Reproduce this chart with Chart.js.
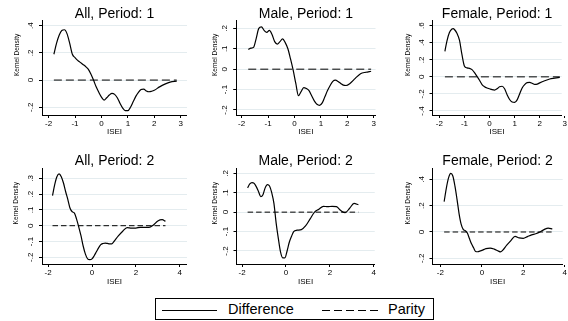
<!DOCTYPE html>
<html>
<head>
<meta charset="utf-8">
<script src="https://cdn.jsdelivr.net/npm/chart.js@4.4.0/dist/chart.umd.min.js"></script>
<style>
  html, body { margin: 0; padding: 0; background: #fff; }
  body { width: 568px; height: 321px; position: relative; overflow: hidden; font-family: "Liberation Sans", Arial, sans-serif; }
  canvas { position: absolute; }
  #legend { position: absolute; left: 155px; top: 298px; width: 279px; height: 22px; border: 1px solid #000; box-sizing: border-box; }
  #legend .solid { position: absolute; left: 5.7px; top: 11px; width: 55px; height: 1px; background: #000; }
  #legend .dash { position: absolute; left: 165.7px; top: 11px; width: 60px; height: 1px;
    background: repeating-linear-gradient(to right, #000 0 8px, transparent 8px 12px); }
  #legend span { position: absolute; top: 2.3px; font-size: 14.5px; line-height: 16px; color: #000; white-space: nowrap; }
</style>
</head>
<body>
<canvas id="p1" width="187" height="140" style="left:0px;top:0px"></canvas>
<canvas id="p2" width="187" height="140" style="left:190px;top:0px"></canvas>
<canvas id="p3" width="188" height="140" style="left:380px;top:0px"></canvas>
<canvas id="p4" width="187" height="150" style="left:0px;top:140px"></canvas>
<canvas id="p5" width="187" height="150" style="left:190px;top:140px"></canvas>
<canvas id="p6" width="188" height="150" style="left:380px;top:140px"></canvas>
<div id="legend">
  <div class="solid"></div><span style="left:72px">Difference</span>
  <div class="dash"></div><span style="left:232px">Parity</span>
</div>
<script>
// panel titles
const panelTitles = ['All, Period: 1', 'Male, Period: 1', 'Female, Period: 1',
                     'All, Period: 2', 'Male, Period: 2', 'Female, Period: 2'];

// ISEI (x) and kernel density difference (y)
const isei_all1 = [-1.8,-1.7,-1.6,-1.5,-1.4,-1.3,-1.2,-1.1,-1.0,-0.9,-0.8,-0.7,-0.6,-0.5,-0.4,-0.3,-0.2,-0.1,0.0,0.1,0.2,0.3,0.4,0.5,0.6,0.7,0.8,0.9,1.0,1.1,1.2,1.3,1.4,1.5,1.6,1.7,1.8,1.9,2.0,2.2,2.4,2.6,2.85];
const diff_all1 = [0.19,0.27,0.33,0.365,0.37,0.34,0.27,0.19,0.165,0.145,0.13,0.115,0.10,0.08,0.045,0.0,-0.05,-0.09,-0.125,-0.147,-0.13,-0.11,-0.098,-0.105,-0.13,-0.17,-0.205,-0.225,-0.225,-0.20,-0.16,-0.12,-0.09,-0.07,-0.066,-0.08,-0.086,-0.082,-0.075,-0.05,-0.03,-0.015,-0.008];

const isei_male1 = [-1.75,-1.65,-1.55,-1.45,-1.35,-1.25,-1.15,-1.05,-0.95,-0.85,-0.75,-0.65,-0.55,-0.45,-0.35,-0.25,-0.15,-0.05,0.05,0.15,0.25,0.35,0.45,0.55,0.65,0.75,0.85,0.95,1.05,1.15,1.25,1.35,1.45,1.55,1.65,1.75,1.85,1.95,2.1,2.3,2.5,2.7,2.9];
const diff_male1 = [0.097,0.103,0.107,0.15,0.20,0.207,0.19,0.18,0.19,0.17,0.135,0.123,0.135,0.148,0.13,0.10,0.05,-0.005,-0.07,-0.13,-0.11,-0.09,-0.095,-0.105,-0.13,-0.155,-0.172,-0.177,-0.165,-0.135,-0.105,-0.08,-0.06,-0.054,-0.06,-0.07,-0.078,-0.08,-0.07,-0.045,-0.022,-0.015,-0.01];

const isei_fem1 = [-1.78,-1.7,-1.6,-1.5,-1.45,-1.4,-1.3,-1.2,-1.1,-1.0,-0.9,-0.8,-0.7,-0.6,-0.5,-0.4,-0.3,-0.2,-0.1,0.0,0.1,0.2,0.3,0.4,0.5,0.6,0.7,0.8,0.9,1.0,1.1,1.2,1.3,1.4,1.5,1.6,1.7,1.8,1.9,2.0,2.2,2.4,2.6,2.8];
const diff_fem1 = [0.30,0.42,0.52,0.56,0.565,0.555,0.51,0.43,0.26,0.125,0.105,0.1,0.085,0.05,0.005,-0.04,-0.09,-0.115,-0.13,-0.14,-0.15,-0.155,-0.14,-0.115,-0.11,-0.14,-0.21,-0.265,-0.295,-0.30,-0.27,-0.2,-0.13,-0.09,-0.068,-0.065,-0.075,-0.088,-0.085,-0.07,-0.045,-0.025,-0.015,-0.005];

const isei_all2 = [-1.8,-1.7,-1.6,-1.5,-1.4,-1.3,-1.2,-1.1,-1.0,-0.9,-0.8,-0.7,-0.6,-0.5,-0.4,-0.3,-0.2,-0.1,0.0,0.1,0.2,0.3,0.4,0.5,0.6,0.7,0.8,0.9,1.0,1.2,1.4,1.6,1.8,2.0,2.2,2.4,2.6,2.8,3.0,3.2,3.35];
const diff_all2 = [0.19,0.26,0.31,0.328,0.31,0.27,0.215,0.165,0.11,0.088,0.08,0.04,-0.01,-0.065,-0.13,-0.18,-0.21,-0.215,-0.21,-0.19,-0.165,-0.14,-0.12,-0.113,-0.11,-0.112,-0.115,-0.115,-0.1,-0.065,-0.035,-0.012,-0.015,-0.015,-0.01,-0.01,-0.01,0.005,0.03,0.038,0.028];

const isei_male2 = [-1.75,-1.65,-1.55,-1.45,-1.35,-1.25,-1.15,-1.05,-0.95,-0.85,-0.75,-0.65,-0.55,-0.45,-0.35,-0.25,-0.15,-0.05,0.05,0.15,0.25,0.35,0.5,0.7,0.9,1.1,1.3,1.5,1.7,1.9,2.1,2.3,2.5,2.7,2.9,3.1,3.3];
const diff_male2 = [0.125,0.145,0.152,0.148,0.13,0.105,0.08,0.09,0.125,0.142,0.135,0.1,0.045,-0.055,-0.135,-0.205,-0.235,-0.235,-0.2,-0.155,-0.125,-0.1,-0.093,-0.09,-0.07,-0.035,0.0,0.015,0.03,0.028,0.03,0.028,0.008,-0.003,0.02,0.045,0.038];

const isei_fem2 = [-1.82,-1.7,-1.6,-1.5,-1.4,-1.3,-1.2,-1.1,-1.0,-0.9,-0.8,-0.7,-0.6,-0.5,-0.4,-0.3,-0.2,-0.1,0.0,0.2,0.4,0.6,0.8,0.9,1.0,1.2,1.4,1.6,1.8,2.0,2.2,2.4,2.6,2.8,3.0,3.2,3.4];
const diff_fem2 = [0.23,0.345,0.415,0.445,0.425,0.35,0.25,0.14,0.06,0.02,0.01,-0.008,-0.05,-0.09,-0.12,-0.148,-0.15,-0.145,-0.14,-0.126,-0.122,-0.13,-0.145,-0.151,-0.14,-0.1,-0.065,-0.033,-0.045,-0.048,-0.035,-0.022,-0.013,0.0,0.018,0.03,0.023];

// tick values and labels
const xTicks1 = [-2, -1, 0, 1, 2, 3];
const xTicks2 = [-2, 0, 2, 4];
const yTicks_all1 = [-0.2, 0, 0.2, 0.4];        const yLabels_all1 = ['-.2', '0', '.2', '.4'];
const yTicks_male1 = [-0.2, -0.1, 0, 0.1, 0.2]; const yLabels_male1 = ['-.2', '-.1', '0', '.1', '.2'];
const yTicks_fem1 = [-0.4, -0.2, 0, 0.2, 0.4, 0.6]; const yLabels_fem1 = ['-.4', '-.2', '0', '.2', '.4', '.6'];
const yTicks_all2 = [-0.2, -0.1, 0, 0.1, 0.2, 0.3]; const yLabels_all2 = ['-.2', '-.1', '0', '.1', '.2', '.3'];
const yTicks_male2 = [-0.2, -0.1, 0, 0.1, 0.2]; const yLabels_male2 = ['-.2', '-.1', '0', '.1', '.2'];
const yTicks_fem2 = [-0.2, 0, 0.2, 0.4];        const yLabels_fem2 = ['-.2', '0', '.2', '.4'];

const panels = [
  { id: 'p1', x: isei_all1,  y: diff_all1,  xt: xTicks1, yt: yTicks_all1,  yl: yLabels_all1 },
  { id: 'p2', x: isei_male1, y: diff_male1, xt: xTicks1, yt: yTicks_male1, yl: yLabels_male1 },
  { id: 'p3', x: isei_fem1,  y: diff_fem1,  xt: xTicks1, yt: yTicks_fem1,  yl: yLabels_fem1 },
  { id: 'p4', x: isei_all2,  y: diff_all2,  xt: xTicks2, yt: yTicks_all2,  yl: yLabels_all2 },
  { id: 'p5', x: isei_male2, y: diff_male2, xt: xTicks2, yt: yTicks_male2, yl: yLabels_male2 },
  { id: 'p6', x: isei_fem2,  y: diff_fem2,  xt: xTicks2, yt: yTicks_fem2,  yl: yLabels_fem2 }
];

// axis ranges and box sizes of each panel
const frames = [
  { yW: 42,   xH: 25, tPad: 6.8,  ytX: 17,   xMin: -2.249, xMax: 3.238, yMin: -0.257, yMax: 0.436, dash: [8, 4] },
  { yW: 46.2, xH: 25, tPad: 6.8,  ytX: 25,   xMin: -2.206, xMax: 3.067, yMin: -0.2245, yMax: 0.237, dash: [8, 4] },
  { yW: 52.5, xH: 25, tPad: 6.8,  ytX: 28.3, xMin: -2.275, xMax: 2.877, yMin: -0.447, yMax: 0.657, dash: [8, 4] },
  { yW: 42,   xH: 26, tPad: 14.5, ytX: 16.7, xMin: -2.279, xMax: 4.33,  yMin: -0.2424, yMax: 0.362, dash: [5.5, 3] },
  { yW: 46.5, xH: 26, tPad: 14.5, ytX: 25,   xMin: -2.256, xMax: 4.044, yMin: -0.267, yMax: 0.2247, dash: [5.5, 3] },
  { yW: 52.5, xH: 26, tPad: 14.5, ytX: 28.3, xMin: -2.381, xMax: 3.898, yMin: -0.243, yMax: 0.482, dash: [5.5, 3] }
];

Chart.defaults.font.family = '"Liberation Sans", Arial, sans-serif';
Chart.defaults.color = '#000';

// y axis title, drawn a little above the middle like the original
const yTitlePlugin = {
  id: 'yTitle',
  afterDraw(chart, args, opts) {
    const ctx = chart.ctx;
    const area = chart.chartArea;
    ctx.save();
    ctx.font = '6.5px "Liberation Sans", Arial, sans-serif';
    ctx.fillStyle = '#000';
    ctx.textAlign = 'center';
    ctx.textBaseline = 'middle';
    ctx.translate(opts.x, (area.top + area.bottom) / 2 + opts.shift);
    ctx.rotate(-Math.PI / 2);
    ctx.fillText(opts.text, 0, 0);
    ctx.restore();
  }
};

function makePanel(i) {
  const p = panels[i];
  const f = frames[i];
  const pts = p.x.map((v, k) => ({ x: v, y: p.y[k] }));
  const parity = [{ x: p.x[0], y: 0 }, { x: p.x[p.x.length - 1], y: 0 }];

  new Chart(document.getElementById(p.id), {
    type: 'line',
    data: {
      datasets: [
        { label: 'Difference', data: pts, borderColor: '#000', borderWidth: 1.2,
          pointRadius: 0, cubicInterpolationMode: 'monotone', fill: false },
        { label: 'Parity', data: parity, borderColor: '#000', borderWidth: 1,
          borderDash: f.dash, pointRadius: 0, fill: false }
      ]
    },
    options: {
      responsive: false,
      animation: false,
      layout: { padding: 0, autoPadding: false },
      plugins: {
        legend: { display: false },
        tooltip: { enabled: false },
        title: { display: true, text: panelTitles[i], fullSize: false, color: '#000',
                 font: { size: 14, weight: 'normal', lineHeight: 1 },
                 padding: { top: f.tPad, bottom: 0 } },
        yTitle: { text: 'Kernel Density', x: f.ytX, shift: -13 }
      },
      scales: {
        x: {
          type: 'linear', min: f.xMin, max: f.xMax,
          afterBuildTicks: s => { s.ticks = p.xt.map(v => ({ value: v })); },
          afterFit: s => { s.height = f.xH; },
          ticks: { font: { size: 8 }, padding: 1, maxRotation: 0, autoSkip: false,
                   callback: v => String(v) },
          grid: { drawOnChartArea: false, drawTicks: true, tickLength: 3, tickColor: '#000' },
          border: { display: true, color: '#000', width: 1 },
          title: { display: true, text: 'ISEI', font: { size: 8 }, padding: { top: 0, bottom: 3.2 } }
        },
        y: {
          type: 'linear', min: f.yMin, max: f.yMax,
          afterBuildTicks: s => { s.ticks = p.yt.map(v => ({ value: v })); },
          afterFit: s => { s.width = f.yW; },
          ticks: { font: { size: 8 }, minRotation: 90, maxRotation: 90, crossAlign: 'center',
                   padding: 3.3, autoSkip: false,
                   callback: v => { const k = p.yt.indexOf(v); return k >= 0 ? p.yl[k] : ''; } },
          grid: { color: 'rgb(228,236,239)', lineWidth: 1, drawTicks: true, tickLength: 3, tickColor: '#000' },
          border: { display: true, color: '#000', width: 1 }
        }
      }
    },
    plugins: [yTitlePlugin]
  });
}

for (let i = 0; i < panels.length; i++) {
  makePanel(i);
}
</script>
</body>
</html>
